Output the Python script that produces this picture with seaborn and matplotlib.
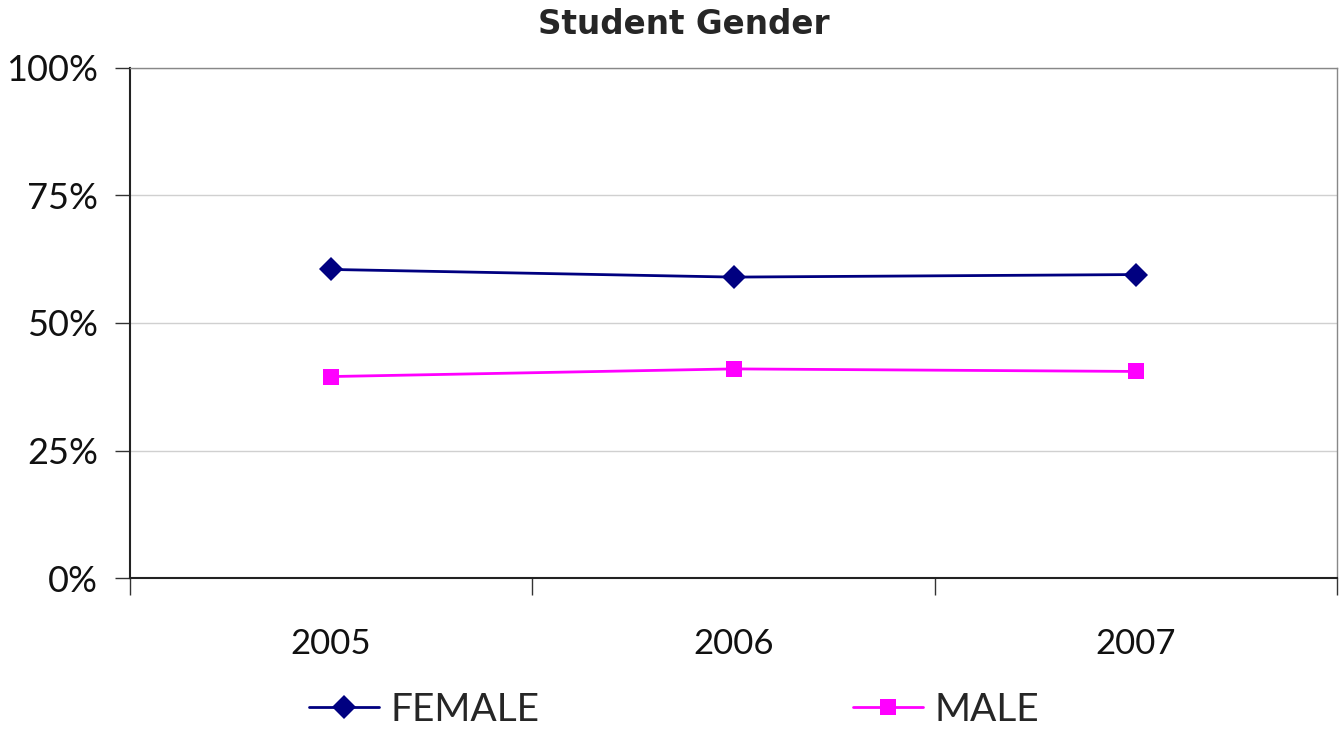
import matplotlib
matplotlib.use("Agg")
import matplotlib.pyplot as plt
import seaborn as sns
import pandas as pd
from matplotlib.ticker import FixedLocator, PercentFormatter
from matplotlib.lines import Line2D

years = ["2005", "2006", "2007"]
female = [60.5, 59.0, 59.5]
male = [39.5, 41.0, 40.5]
series_names = ["FEMALE", "MALE"]
colors = {"FEMALE": "#000080", "MALE": "#FF00FF"}
markers = {"FEMALE": "D", "MALE": "s"}

df = pd.DataFrame({
    "Year": years * 2,
    "Share": female + male,
    "Gender": ["FEMALE"] * 3 + ["MALE"] * 3,
})

sns.set_style("white")
plt.rcParams["font.family"] = ["Lato", "DejaVu Sans"]

fig = plt.figure(figsize=(13.39, 7.30), dpi=100)
ax = fig.add_axes([130 / 1339, 1 - 578 / 730, 1207 / 1339, 510 / 730])

sns.lineplot(data=df, x="Year", y="Share", hue="Gender", style="Gender",
             palette=colors, markers=markers, dashes=False, ax=ax,
             linewidth=2, markersize=12, markeredgewidth=0, legend=False, sort=False)

ax.set_xlim(-0.5, 2.5)
ax.set_ylim(0, 100)
ax.set_yticks([0, 25, 50, 75, 100])
ax.yaxis.set_major_formatter(PercentFormatter(decimals=0))
ax.grid(axis="y", color="#d0d0d0", linewidth=1)
ax.set_axisbelow(True)
ax.set_xlabel("")
ax.set_ylabel("")

ax.set_xticks([0, 1, 2])
ax.set_xticklabels(years)
ax.xaxis.set_minor_locator(FixedLocator([-0.5, 0.5, 1.5, 2.5]))
ax.tick_params(axis="x", which="major", bottom=True, length=0, pad=36, labelsize=25,
               labelcolor="#111111")
ax.tick_params(axis="x", which="minor", bottom=True, length=12, width=1,
               color="#333333", direction="out")
ax.tick_params(axis="y", which="major", left=True, length=11, width=1, color="#333333",
               direction="out", labelsize=26, pad=12, labelcolor="#111111")

for s in ["left", "bottom"]:
    ax.spines[s].set_color("#222222")
    ax.spines[s].set_linewidth(1.5)
for s in ["top", "right"]:
    ax.spines[s].set_visible(True)
    ax.spines[s].set_color("#888888")
    ax.spines[s].set_linewidth(1)

fig.text(684 / 1339, 1 - 25 / 730, "Student Gender", ha="center", va="center",
         fontsize=23.5, fontweight="bold", family=["DejaVu Sans"])

handles = [Line2D([], [], color=colors[n], marker=markers[n], linewidth=2,
                  markersize=12, markeredgewidth=0) for n in series_names]
fig.legend(handles, series_names, loc="center", bbox_to_anchor=(674 / 1339, 1 - 710 / 730),
           ncol=2, frameon=False, handlelength=1.8, handletextpad=0.3,
           columnspacing=8.05, prop={"family": ["Lato", "DejaVu Sans"], "size": 28})

fig.savefig("out.png", dpi=100, facecolor="white")
